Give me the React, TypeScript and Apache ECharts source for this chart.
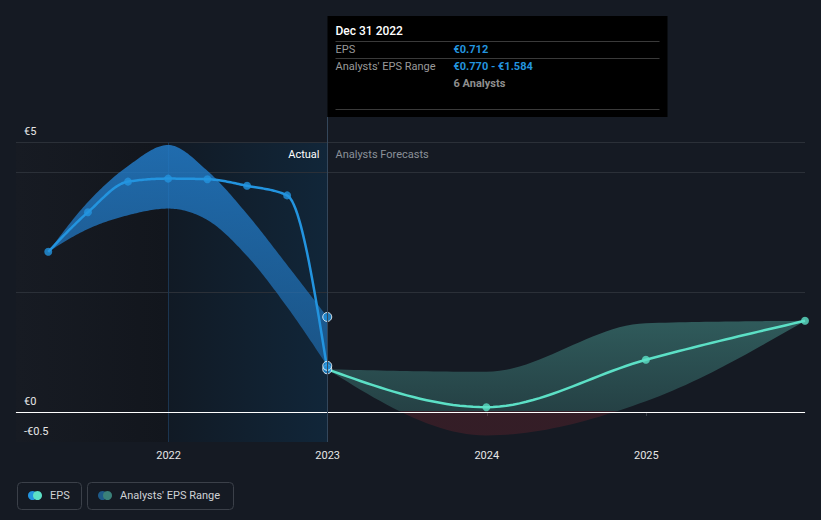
import React, { useEffect, useRef } from "react";
import * as echarts from "echarts";

// ---- Data ----
const actualDates = ["2021-03-31", "2021-06-30", "2021-09-30", "2021-12-31", "2022-03-31", "2022-06-30", "2022-09-30", "2022-12-31"];
const actualEps = [2.67, 3.33, 3.84, 3.89, 3.88, 3.77, 3.61, 0.712];
const actualLow = [2.67, 3.05, 3.28, 3.39, 3.2, 2.6, 1.75, 0.77];
const actualHigh = [2.67, 3.5, 4.1, 4.45, 4.02, 3.3, 2.45, 1.584];

const forecastDates = ["2022-12-31", "2023-12-31", "2024-12-31", "2025-12-31"];
const forecastEps = [0.712, 0.08, 0.87, 1.52];
const forecastLow = [0.712, -0.39, 0.18, 1.52];
const forecastHigh = [0.712, 0.67, 1.48, 1.52];

const rangeDate = "2022-12-31";
const rangeValues = [0.77, 1.584];

const yTickValues = [-0.5, 0, 4.5];
const yTickLabels = ["-€0.5", "€0", "€5"];
const gridLineValues = [2, 4, 4.5];
const xTickYears = [2022, 2023, 2024, 2025];
const xMinDate = "2021-01-16";
const xMaxDate = "2025-12-31";
const actualStartDate = "2022-01-01";

const tooltipTitle = "Dec 31 2022";
const tooltipRows = [
  { label: "EPS", value: "€0.712" },
  { label: "Analysts' EPS Range", value: "€0.770 - €1.584" },
];
const tooltipAnalysts = "6 Analysts";

const BLUE = "#2394df";
const TEAL = "#5ce0c6";
const FONT = "Roboto, 'Noto Sans', sans-serif";

const t = (d: string) => echarts.time.parse(d).getTime();
const zip = (d: string[], v: number[]) => d.map((x, i) => [t(x), v[i]]);

// monotone-x cubic curve through pixel points, sampled for drawing
function monotoneCurve(p: number[][], steps = 24): number[][] {
  const n = p.length;
  if (n < 2) return p.slice();
  const sign = (v: number) => (v < 0 ? -1 : 1);
  const h: number[] = [];
  const s: number[] = [];
  for (let i = 0; i < n - 1; i++) {
    h.push(p[i + 1][0] - p[i][0]);
    s.push((p[i + 1][1] - p[i][1]) / (h[i] || 1e-9));
  }
  const tan: number[] = new Array(n).fill(0);
  for (let i = 1; i < n - 1; i++) {
    const h0 = h[i - 1], h1 = h[i], s0 = s[i - 1], s1 = s[i];
    const pp = (s0 * h1 + s1 * h0) / (h0 + h1);
    tan[i] = (sign(s0) + sign(s1)) * Math.min(Math.abs(s0), Math.abs(s1), 0.5 * Math.abs(pp)) || 0;
  }
  if (n === 2) {
    tan[0] = s[0];
    tan[1] = s[0];
  } else {
    tan[0] = (3 * s[0] - tan[1]) / 2;
    tan[n - 1] = (3 * s[n - 2] - tan[n - 2]) / 2;
  }
  const out: number[][] = [p[0]];
  for (let i = 0; i < n - 1; i++) {
    const [x0, y0] = p[i];
    const [x1, y1] = p[i + 1];
    const d = h[i] / 3;
    const c1 = [x0 + d, y0 + d * tan[i]];
    const c2 = [x1 - d, y1 - d * tan[i + 1]];
    for (let k = 1; k <= steps; k++) {
      const u = k / steps;
      const a = (1 - u) ** 3, b = 3 * (1 - u) ** 2 * u, c = 3 * (1 - u) * u * u, e = u ** 3;
      out.push([a * x0 + b * c1[0] + c * c2[0] + e * x1, a * y0 + b * c1[1] + c * c2[1] + e * y1]);
    }
  }
  return out;
}

export default function App() {
  const ref = useRef<HTMLDivElement>(null);

  useEffect(() => {
    document.body.style.margin = "0";
    document.body.style.background = "#151a23";
    const chart = echarts.init(ref.current!, null, { renderer: "svg" });

    const yearTicks = xTickYears.map((y) => t(`${y}-01-01`));

    const bandRender = (dates: string[], low: number[], high: number[], fill: any) => (params: any, api: any) => {
      if (params.dataIndex !== 0) return null;
      const up = dates.map((d, i) => api.coord([t(d), high[i]]));
      const lo = dates.map((d, i) => api.coord([t(d), low[i]]));
      const pts = [...monotoneCurve(up), ...monotoneCurve(lo).reverse()];
      return { type: "polygon", silent: true, shape: { points: pts }, style: { fill } };
    };
    const lineRender = (dates: string[], vals: number[], stroke: string) => (params: any, api: any) => {
      if (params.dataIndex !== 0) return null;
      const pts = dates.map((d, i) => api.coord([t(d), vals[i]]));
      return { type: "polyline", silent: true, shape: { points: monotoneCurve(pts) }, style: { stroke, lineWidth: 2.5, fill: "none", lineJoin: "round" } };
    };

    const blueFill = {
      type: "linear", x: 0, y: 0, x2: 0, y2: 1,
      colorStops: [
        { offset: 0, color: "rgba(34,122,198,0.85)" },
        { offset: 1, color: "rgba(34,122,198,0.55)" },
      ],
    };
    const greenFill = {
      type: "linear", x: 0, y: 0, x2: 0, y2: 520, global: true,
      colorStops: [
        { offset: 0, color: "rgba(80,170,160,0.46)" },
        { offset: 320 / 520, color: "rgba(80,170,160,0.45)" },
        { offset: 411.5 / 520, color: "rgba(80,170,160,0.27)" },
        { offset: 411.5 / 520, color: "rgba(150,40,50,0.24)" },
        { offset: 1, color: "rgba(150,40,50,0.24)" },
      ],
    };

    const option: any = {
      animation: false,
      backgroundColor: "#151a23",
      textStyle: { fontFamily: FONT },
      grid: { left: 16, right: 16, top: 142, bottom: 78 },
      xAxis: {
        type: "value",
        min: t(xMinDate),
        max: t(xMaxDate),
        axisLine: { lineStyle: { color: "#3b4049", width: 1 } },
        axisTick: { show: true, length: 4, customValues: yearTicks, lineStyle: { color: "#3b4049" } },
        axisLabel: {
          customValues: yearTicks,
          color: "#e6e6e6",
          fontSize: 11,
          margin: 8,
          fontFamily: FONT,
          formatter: (v: number) => String(new Date(v).getFullYear()),
        },
        splitLine: { show: false },
      },
      yAxis: {
        type: "value",
        min: -0.5,
        max: 4.5,
        interval: 0.5,
        axisLine: { show: false },
        axisTick: { show: false },
        splitLine: { show: false },
        axisLabel: { show: false },
      },
      series: [
        {
          name: "bg",
          type: "line",
          data: [],
          silent: true,
          z: 1,
          markArea: {
            silent: true,
            z: 1,
            data: [
              [
                {
                  xAxis: t(xMinDate),
                  itemStyle: {
                    color: { type: "linear", x: 0, y: 0, x2: 1, y2: 0, colorStops: [{ offset: 0, color: "#171b23" }, { offset: 1, color: "#12161d" }] },
                  },
                },
                { xAxis: t(actualStartDate) },
              ],
              [
                {
                  xAxis: t(actualStartDate),
                  itemStyle: {
                    color: { type: "linear", x: 0, y: 0, x2: 1, y2: 0, colorStops: [{ offset: 0, color: "#111a25" }, { offset: 1, color: "#112639" }] },
                  },
                },
                { xAxis: t(rangeDate) },
              ],
            ],
          },
          markLine: {
            silent: true,
            z: 1,
            symbol: ["none", "none"],
            label: { show: false },
            lineStyle: { color: "#2b3038", width: 1, type: "solid" },
            data: [
              ...gridLineValues.map((v) => ({ yAxis: v })),
              { xAxis: t(actualStartDate), lineStyle: { color: "#1b3550", width: 1, type: "solid" } },
            ],
          },
        },
        {
          name: "Analysts' EPS Range (past)",
          type: "custom",
          silent: true,
          z: 2,
          data: zip(actualDates, actualHigh),
          renderItem: bandRender(actualDates, actualLow, actualHigh, blueFill),
        },
        {
          name: "Analysts' EPS Range",
          type: "custom",
          silent: true,
          z: 2,
          data: zip(forecastDates, forecastLow),
          renderItem: bandRender(forecastDates, forecastLow, forecastHigh, greenFill),
        },
        {
          name: "zero",
          type: "line",
          data: [],
          silent: true,
          z: 3,
          markLine: {
            silent: true,
            z: 3,
            symbol: ["none", "none"],
            label: { show: false },
            lineStyle: { color: "#ffffff", width: 1.2, type: "solid" },
            data: [{ yAxis: 0 }],
          },
        },
        {
          name: "EPS line",
          type: "custom",
          silent: true,
          z: 5,
          data: zip(actualDates, actualEps),
          renderItem: lineRender(actualDates, actualEps, BLUE),
        },
        {
          name: "EPS forecast line",
          type: "custom",
          silent: true,
          z: 4,
          data: zip(forecastDates, forecastEps),
          renderItem: lineRender(forecastDates, forecastEps, TEAL),
        },
        {
          name: "EPS",
          type: "scatter",
          symbol: "circle",
          symbolSize: 8,
          itemStyle: { color: BLUE },
          z: 6,
          data: zip(actualDates, actualEps).map((p, i) =>
            i === actualDates.length - 1
              ? { value: p, itemStyle: { color: BLUE, borderColor: "#ffffff", borderWidth: 1 }, symbolSize: 9 }
              : { value: p }
          ),
        },
        {
          name: "EPS Forecast",
          type: "scatter",
          symbol: "circle",
          symbolSize: 8,
          itemStyle: { color: TEAL },
          z: 5,
          data: zip(forecastDates, forecastEps).slice(1),
        },
        {
          name: "Range",
          type: "scatter",
          symbol: "circle",
          symbolSize: 9,
          itemStyle: { color: BLUE, borderColor: "#ffffff", borderWidth: 1 },
          data: rangeValues.map((v) => [t(rangeDate), v]),
          z: 6,
        },
      ],
    };

    chart.setOption(option);

    const x23 = Math.round(chart.convertToPixel({ xAxisIndex: 0 }, t(rangeDate)) as number) + 0.5;
    const gridBottom = 442;
    const tipTop = 16;
    const tipW = 340;
    const tipH = 101;
    const valX = x23 + 126;

    const yLabelGraphics = yTickValues.map((v, i) => ({
      type: "text",
      z: 10,
      silent: true,
      style: {
        text: yTickLabels[i],
        x: 24,
        y: (chart.convertToPixel({ yAxisIndex: 0 }, v) as number) - 5,
        verticalAlign: "bottom",
        fill: "#e6e6e6",
        font: `11px ${FONT}`,
      },
    }));

    const graphics: any[] = [
      ...yLabelGraphics,
      { type: "line", silent: true, z: 10, shape: { x1: x23, y1: tipTop + tipH, x2: x23, y2: gridBottom }, style: { stroke: "#34475b", lineWidth: 1 } },
      { type: "text", z: 10, style: { text: "Actual", x: x23 - 8, y: 154, align: "right", verticalAlign: "middle", fill: "#ffffff", font: `11px ${FONT}` } },
      { type: "text", z: 10, style: { text: "Analysts Forecasts", x: x23 + 8, y: 154, align: "left", verticalAlign: "middle", fill: "#8b9199", font: `11px ${FONT}` } },
      { type: "rect", z: 20, shape: { x: x23, y: tipTop, width: tipW, height: tipH }, style: { fill: "#000000" } },
      { type: "text", z: 21, style: { text: tooltipTitle, x: x23 + 8, y: 31, verticalAlign: "middle", fill: "#ffffff", font: `500 12px ${FONT}` } },
      { type: "line", z: 21, shape: { x1: x23 + 8, y1: 41.5, x2: x23 + tipW - 8, y2: 41.5 }, style: { stroke: "#3a3a3a", lineWidth: 1 } },
      { type: "text", z: 21, style: { text: tooltipRows[0].label, x: x23 + 8, y: 49, verticalAlign: "middle", fill: "#9a9a9a", font: `11px ${FONT}` } },
      { type: "text", z: 21, style: { text: tooltipRows[0].value, x: valX, y: 49, verticalAlign: "middle", fill: BLUE, font: `bold 11px ${FONT}` } },
      { type: "line", z: 21, shape: { x1: x23 + 8, y1: 58.5, x2: x23 + tipW - 8, y2: 58.5 }, style: { stroke: "#3a3a3a", lineWidth: 1 } },
      { type: "text", z: 21, style: { text: tooltipRows[1].label, x: x23 + 8, y: 66.5, verticalAlign: "middle", fill: "#9a9a9a", font: `11px ${FONT}` } },
      { type: "text", z: 21, style: { text: tooltipRows[1].value, x: valX, y: 66.5, verticalAlign: "middle", fill: BLUE, font: `bold 11px ${FONT}` } },
      { type: "text", z: 21, style: { text: tooltipAnalysts, x: valX, y: 83.5, verticalAlign: "middle", fill: "#8e8e8e", font: `bold 11px ${FONT}` } },
      { type: "line", z: 21, shape: { x1: x23 + 8, y1: 109.5, x2: x23 + tipW - 8, y2: 109.5 }, style: { stroke: "#3a3a3a", lineWidth: 1 } },
      { type: "rect", z: 10, shape: { x: 17.5, y: 482.5, width: 64, height: 27, r: 4 }, style: { fill: "none", stroke: "#3b4049", lineWidth: 1 } },
      { type: "circle", z: 11, shape: { cx: 32.5, cy: 495.5, r: 4.5 }, style: { fill: BLUE } },
      { type: "circle", z: 12, shape: { cx: 37.5, cy: 495.5, r: 4.5 }, style: { fill: TEAL } },
      { type: "text", z: 11, style: { text: "EPS", x: 50, y: 495.5, verticalAlign: "middle", fill: "#cfd2d6", font: `11px ${FONT}` } },
      { type: "rect", z: 10, shape: { x: 87.5, y: 482.5, width: 146, height: 27, r: 4 }, style: { fill: "none", stroke: "#3b4049", lineWidth: 1 } },
      { type: "circle", z: 11, shape: { cx: 102.5, cy: 495.5, r: 4.5 }, style: { fill: "#1e5a88" } },
      { type: "circle", z: 12, shape: { cx: 107.5, cy: 495.5, r: 4.5 }, style: { fill: "#3a8079" } },
      { type: "text", z: 11, style: { text: "Analysts' EPS Range", x: 120, y: 495.5, verticalAlign: "middle", fill: "#cfd2d6", font: `11px ${FONT}` } },
    ];

    chart.setOption({ graphic: graphics });

    return () => chart.dispose();
  }, []);

  return <div ref={ref} style={{ width: 821, height: 520 }} />;
}
